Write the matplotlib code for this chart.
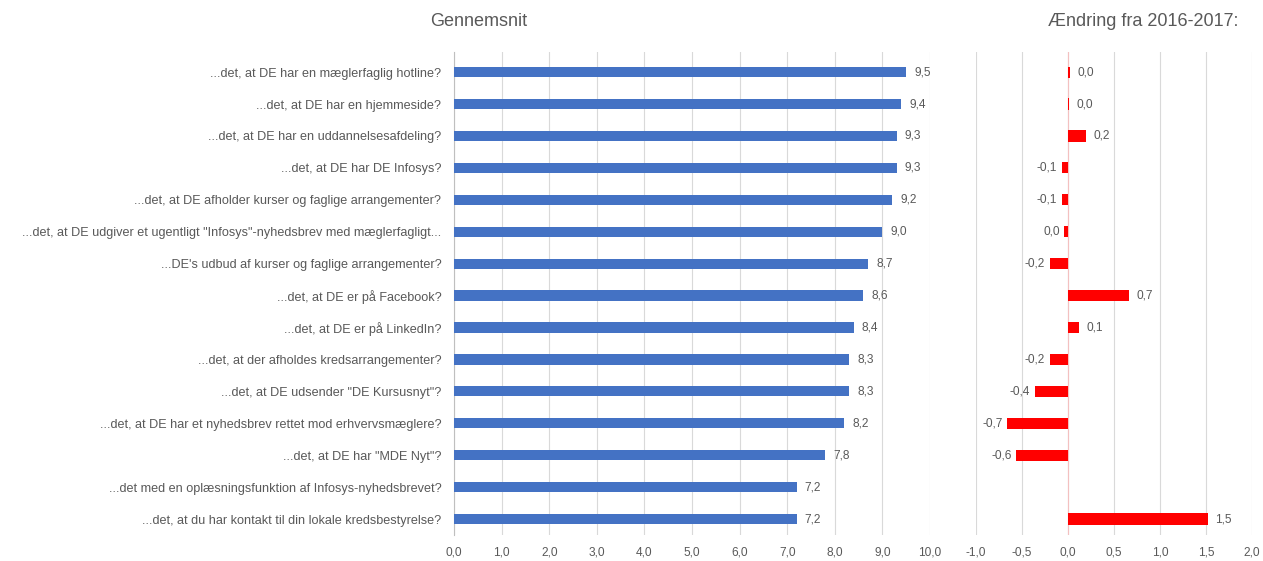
import numpy as np
import matplotlib.pyplot as plt

plt.rcParams['font.family'] = ['Liberation Sans', 'DejaVu Sans']

questions = [
    "...det, at DE har en mæglerfaglig hotline?",
    "...det, at DE har en hjemmeside?",
    "...det, at DE har en uddannelsesafdeling?",
    "...det, at DE har DE Infosys?",
    "...det, at DE afholder kurser og faglige arrangementer?",
    "...det, at DE udgiver et ugentligt \"Infosys\"-nyhedsbrev med mæglerfagligt...",
    "...DE's udbud af kurser og faglige arrangementer?",
    "...det, at DE er på Facebook?",
    "...det, at DE er på LinkedIn?",
    "...det, at der afholdes kredsarrangementer?",
    "...det, at DE udsender \"DE Kursusnyt\"?",
    "...det, at DE har et nyhedsbrev rettet mod erhvervsmæglere?",
    "...det, at DE har \"MDE Nyt\"?",
    "...det med en oplæsningsfunktion af Infosys-nyhedsbrevet?",
    "...det, at du har kontakt til din lokale kredsbestyrelse?",
]
average = [9.5, 9.4, 9.3, 9.3, 9.2, 9.0, 8.7, 8.6, 8.4, 8.3, 8.3, 8.2, 7.8, 7.2, 7.2]
# change 2016-2017; None where the question is new
change = [0.02, 0.01, 0.2, -0.07, -0.07, -0.04, -0.2, 0.66, 0.12, -0.2, -0.36, -0.66, -0.56, None, 1.52]

left_ticks = np.arange(0, 10.5, 1.0)
right_ticks = np.arange(-1.0, 2.01, 0.5)

BLUE = '#4472c4'
RED = '#ff0000'
GREY_TXT = '#595959'
GRID = '#d9d9d9'

def dk(v):
    s = f"{v:.1f}".replace('.', ',')
    return '0,0' if s == '-0,0' else s

W, H = 1263, 561
fig = plt.figure(figsize=(W / 100, H / 100), dpi=100)

top, bottom = 52, 535
ax1 = fig.add_axes([454 / W, (H - bottom) / H, (930 - 454) / W, (bottom - top) / H])
ax2 = fig.add_axes([976 / W, (H - bottom) / H, (1252 - 976) / W, (bottom - top) / H])

y = np.arange(len(questions))
bar_h = 0.32

# left panel: averages
ax1.barh(y, average, height=bar_h, color=BLUE, zorder=3)
for yi, v in zip(y, average):
    ax1.text(v + 0.17, yi, dk(v), va='center', ha='left', fontsize=8.6, color=GREY_TXT)
ax1.set_xlim(0, 10)
ax1.set_xticks(left_ticks)
ax1.set_xticklabels([dk(t) for t in left_ticks], fontsize=8.6, color=GREY_TXT)
ax1.set_yticks(y)
ax1.set_yticklabels(questions, fontsize=9.1, color=GREY_TXT)

# right panel: change since last year
cy = [yi for yi, c in zip(y, change) if c is not None]
cv = [c for c in change if c is not None]
ax2.barh(cy, cv, height=bar_h + 0.03, color=RED, zorder=3)
for yi, v in zip(cy, cv):
    if v >= 0:
        ax2.text(v + 0.08, yi, dk(v), va='center', ha='left', fontsize=8.6, color=GREY_TXT)
    else:
        ax2.text(v - 0.05, yi, dk(v), va='center', ha='right', fontsize=8.6, color=GREY_TXT)
ax2.set_xlim(-1.0, 2.0)
ax2.set_xticks(right_ticks)
ax2.set_xticklabels([dk(t) for t in right_ticks], fontsize=8.6, color=GREY_TXT)
ax2.set_yticks([])
ax2.axvline(0, color='#f4c0c0', lw=0.8, zorder=2)

for ax in (ax1, ax2):
    ax.set_ylim(len(questions) - 0.5, -0.63)
    ax.grid(axis='x', color=GRID, lw=0.8, zorder=0)
    ax.tick_params(axis='both', length=0)
    ax.tick_params(axis='x', pad=8)
    for s in ('top', 'right', 'bottom', 'left'):
        ax.spines[s].set_visible(False)

ax1.spines['left'].set_visible(True)
ax1.spines['left'].set_color('#bfbfbf')
ax1.tick_params(axis='y', pad=9)

fig.text(479 / W, 1 - 22 / H, 'Gennemsnit', ha='center', va='center', fontsize=13, color=GREY_TXT)
fig.text(1143 / W, 1 - 22 / H, 'Ændring fra 2016-2017:', ha='center', va='center', fontsize=13, color=GREY_TXT)

fig.savefig('out.png', dpi=100, facecolor='white')
